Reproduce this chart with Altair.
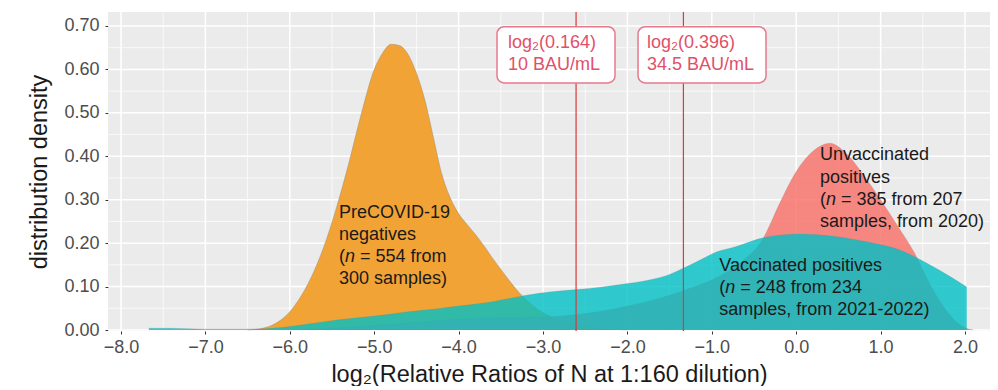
import math
import altair as alt
import pandas as pd

# ---- data ----
pre_x = [-6.50, -6.35, -6.20, -6.05, -5.90, -5.75, -5.60, -5.45, -5.30, -5.15, -5.00, -4.90,
         -4.80, -4.70, -4.60, -4.50, -4.40, -4.30, -4.20, -4.10, -4.00, -3.90, -3.80, -3.70,
         -3.60, -3.50, -3.40, -3.30, -3.20, -3.10, -3.00, -2.90, -2.80, -2.70, -2.60, -2.50,
         -2.40, -2.30, -2.20, -2.00]
pre_y = [0.000, 0.003, 0.012, 0.032, 0.068, 0.120, 0.190, 0.280, 0.385, 0.500, 0.600, 0.638,
         0.658, 0.655, 0.635, 0.592, 0.530, 0.445, 0.360, 0.305, 0.268, 0.243, 0.220, 0.194,
         0.166, 0.140, 0.114, 0.090, 0.070, 0.053, 0.040, 0.030, 0.022, 0.016, 0.011, 0.008,
         0.005, 0.003, 0.002, 0.000]

unvac_x = [-6.0, -5.5, -5.0, -4.5, -4.0, -3.5, -3.0, -2.5, -2.0, -1.5, -1.2, -0.9, -0.6, -0.4,
           -0.2, 0.0, 0.2, 0.4, 0.6, 0.8, 1.0, 1.2, 1.4, 1.6, 1.8, 2.0, 2.1]
unvac_y = [0.000, 0.004, 0.010, 0.018, 0.025, 0.028, 0.030, 0.038, 0.055, 0.080, 0.100, 0.125,
           0.165, 0.208, 0.290, 0.365, 0.412, 0.430, 0.405, 0.356, 0.300, 0.240, 0.178, 0.100,
           0.040, 0.005, 0.000]

vac_x = [-7.67, -7.40, -7.00, -6.60, -6.30, -6.00, -5.70, -5.40, -5.00, -4.60, -4.20, -4.00,
         -3.60, -3.20, -2.90, -2.60, -2.30, -2.00, -1.70, -1.50, -1.34, -1.14, -0.94, -0.75,
         -0.35, 0.04, 0.44, 0.84, 1.23, 1.62, 2.02]
vac_y = [0.004, 0.004, 0.002, 0.002, 0.003, 0.008, 0.016, 0.024, 0.032, 0.042, 0.050, 0.055,
         0.065, 0.080, 0.088, 0.093, 0.099, 0.107, 0.117, 0.128, 0.142, 0.161, 0.180, 0.190,
         0.214, 0.221, 0.216, 0.203, 0.184, 0.146, 0.099]

cutoffs = [math.log2(0.164), math.log2(0.396)]
box_line1 = ["log\u2082(0.164)", "log\u2082(0.396)"]
box_line2 = ["10 BAU/mL", "34.5 BAU/mL"]
box_x0 = [-3.545, -1.874]
box_x1 = [-2.147, -0.358]
box_text_x = [-3.415, -1.768]
box_y0 = [0.569, 0.569]
box_y1 = [0.698, 0.698]
box_text_y1 = [0.661, 0.661]
box_text_y2 = [0.611, 0.611]

x_ticks = [-8.0, -7.0, -6.0, -5.0, -4.0, -3.0, -2.0, -1.0, 0.0, 1.0, 2.0]
x_minor = [-7.5, -6.5, -5.5, -4.5, -3.5, -2.5, -1.5, -0.5, 0.5, 1.5]
y_ticks = [0.0, 0.1, 0.2, 0.3, 0.4, 0.5, 0.6, 0.7]
y_minor = [0.05, 0.15, 0.25, 0.35, 0.45, 0.55, 0.65]

# annotation lines (x, y, text); italic "n" lines split in three parts
ann_plain = [
    (-5.417, 0.2687, "PreCOVID-19"), (-5.417, 0.2187, "negatives"),
    (-5.417, 0.1674, "("), (-5.417, 0.1167, "300 samples)"),
    (0.282, 0.4029, "Unvaccinated"), (0.282, 0.3511, "positives"),
    (0.282, 0.2993, "("), (0.282, 0.2494, "samples, from 2020)"),
    (-0.911, 0.1485, "Vaccinated positives"), (-0.911, 0.0967, "("),
    (-0.911, 0.0461, "samples, from 2021-2022)"),
]
ann_italic = [(-5.417, 0.1674, "n"), (0.282, 0.2993, "n"), (-0.911, 0.0967, "n")]
ann_rest = [(-5.417, 0.1674, "= 554 from"), (0.282, 0.2993, "= 385 from 207"),
            (-0.911, 0.0967, "= 248 from 234")]

# ---- build ----
FONT = "Liberation Sans"
xs = alt.Scale(domain=[-8.154, 2.296], nice=False, zero=False)
ys = alt.Scale(domain=[-0.0023, 0.7322], nice=False, zero=False)

x_axis = alt.Axis(values=x_ticks, format=".1f", labelFontSize=18, labelColor="#4D4D4D",
                  tickColor="#333333", tickSize=3, domain=False, grid=False, labelPadding=4,
                  title="log\u2082(Relative Ratios of N at 1:160 dilution)", titleFontSize=23.5,
                  titleFontWeight="normal", titleColor="#1A1A1A", titlePadding=6, labelFont=FONT,
                  titleFont=FONT)
y_axis = alt.Axis(values=y_ticks, format=".2f", labelFontSize=18, labelColor="#4D4D4D",
                  tickColor="#333333", tickSize=3, domain=False, grid=False, labelPadding=6,
                  title="distribution density", titleFontSize=23.5, titleFontWeight="normal",
                  titleColor="#1A1A1A", titlePadding=12, labelFont=FONT, titleFont=FONT)


def tdf(rows):
    return pd.DataFrame(rows, columns=["x", "y", "t"])


def xr(field):
    return alt.X(field, type="quantitative", scale=xs, axis=x_axis)


def yr(field):
    return alt.Y(field, type="quantitative", scale=ys, axis=y_axis)


grid_xmin = alt.Chart(pd.DataFrame({"v": x_minor})).mark_rule(color="white", strokeWidth=0.7).encode(x=xr("v"))
grid_ymin = alt.Chart(pd.DataFrame({"v": y_minor})).mark_rule(color="white", strokeWidth=0.7).encode(y=yr("v"))
grid_xmaj = alt.Chart(pd.DataFrame({"v": x_ticks})).mark_rule(color="white", strokeWidth=1.5).encode(x=xr("v"))
grid_ymaj = alt.Chart(pd.DataFrame({"v": y_ticks})).mark_rule(color="white", strokeWidth=1.5).encode(y=yr("v"))

df_pre = pd.DataFrame({"x": pre_x, "y": pre_y})
df_unv = pd.DataFrame({"x": unvac_x, "y": unvac_y})
df_vac = pd.DataFrame({"x": vac_x, "y": vac_y})

area_pre = alt.Chart(df_pre).mark_area(color="#F2A030", opacity=0.97, interpolate="monotone").encode(
    x=xr("x"), y=yr("y"), y2=alt.datum(0))
line_pre = alt.Chart(df_pre).mark_line(color="#7F7F7F", strokeWidth=0.6, opacity=0.6, interpolate="monotone").encode(
    x=xr("x"), y=yr("y"))
area_unv = alt.Chart(df_unv).mark_area(color="#F8766D", opacity=0.85, interpolate="monotone").encode(
    x=xr("x"), y=yr("y"), y2=alt.datum(0))
line_unv = alt.Chart(df_unv).mark_line(color="#7F7F7F", strokeWidth=0.5, opacity=0.4, interpolate="monotone").encode(
    x=xr("x"), y=yr("y"))
area_vac = alt.Chart(df_vac).mark_area(color="#00BFC4", opacity=0.8, interpolate="monotone").encode(
    x=xr("x"), y=yr("y"), y2=alt.datum(0))
line_vac = alt.Chart(df_vac).mark_line(color="#7F7F7F", strokeWidth=0.5, opacity=0.4, interpolate="monotone").encode(
    x=xr("x"), y=yr("y"))

cut = alt.Chart(pd.DataFrame({"v": cutoffs})).mark_rule(color="#D93A3A", strokeWidth=1.2).encode(x=xr("v"))

df_box = pd.DataFrame({"x0": box_x0, "x1": box_x1, "y0": box_y0, "y1": box_y1,
                       "tx": box_text_x, "ty1": box_text_y1, "ty2": box_text_y2,
                       "l1": box_line1, "l2": box_line2})
boxes = alt.Chart(df_box).mark_rect(fill="white", stroke="#E8788C", strokeWidth=1.5, cornerRadius=7).encode(
    x=xr("x0"), x2="x1", y=yr("y0"), y2="y1")
btext1 = alt.Chart(df_box).mark_text(align="left", baseline="middle", fontSize=18, color="#E0506A", font=FONT).encode(
    x=xr("tx"), y=yr("ty1"), text="l1:N")
btext2 = alt.Chart(df_box).mark_text(align="left", baseline="middle", fontSize=18, color="#E0506A", font=FONT).encode(
    x=xr("tx"), y=yr("ty2"), text="l2:N")

txt_kw = dict(align="left", baseline="middle", fontSize=18, color="#1A1A1A", font=FONT)
ann1 = alt.Chart(tdf(ann_plain)).mark_text(**txt_kw).encode(x=xr("x"), y=yr("y"), text="t:N")
ann2 = alt.Chart(tdf(ann_italic)).mark_text(dx=6, fontStyle="italic", **txt_kw).encode(x=xr("x"), y=yr("y"), text="t:N")
ann3 = alt.Chart(tdf(ann_rest)).mark_text(dx=21, **txt_kw).encode(x=xr("x"), y=yr("y"), text="t:N")

chart = alt.layer(
    grid_xmin, grid_ymin, grid_xmaj, grid_ymaj,
    area_pre, line_pre, area_unv, line_unv, area_vac, line_vac,
    cut, boxes, btext1, btext2, ann1, ann2, ann3,
).properties(
    width=882, height=319,
    autosize=alt.AutoSizeParams(type="none"),
    padding={"left": 100, "top": 4, "right": 0, "bottom": 55},
).configure(font=FONT).configure_view(fill="#EBEBEB", strokeWidth=0)

chart.save("out.html", embed_options={"renderer": "svg", "actions": False})
